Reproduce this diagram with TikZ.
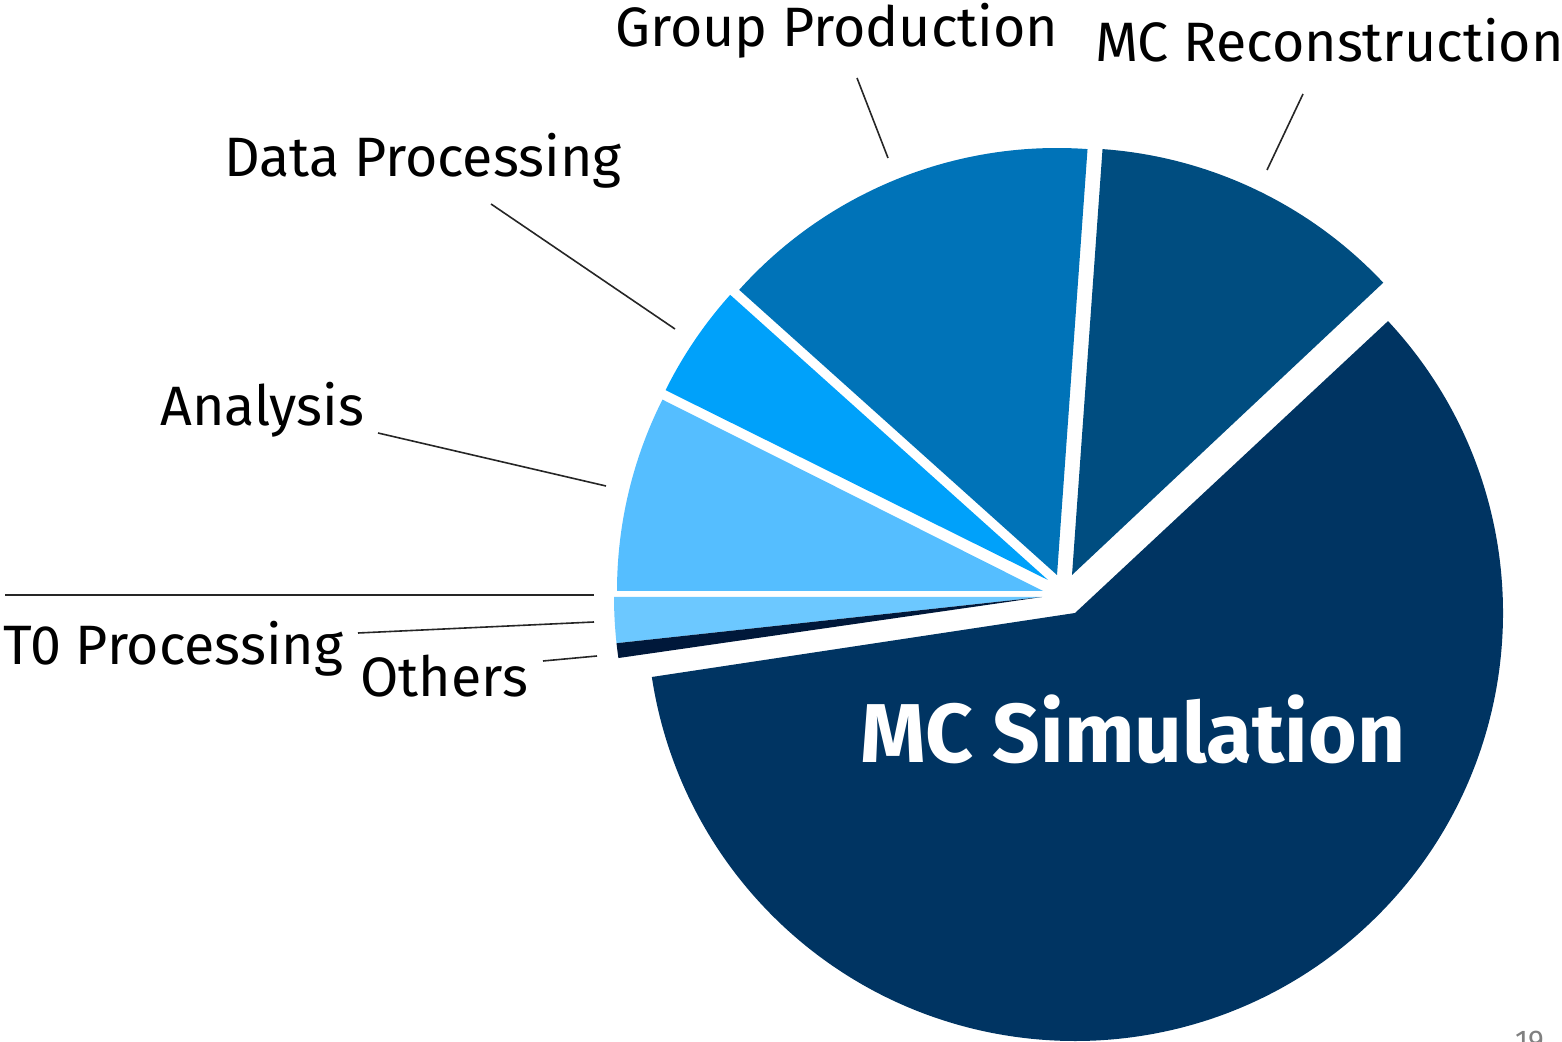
\documentclass[tikz,border=0pt]{standalone}
\usepackage{fontspec}
\setmainfont{Fira Sans}
\begin{document}
\begin{tikzpicture}[x=1pt,y=1pt,
  lbl/.style={inner sep=0pt, font=\fontsize{55.5}{66}\selectfont, anchor=base west},
  lead/.style={draw=black!85, line width=1.6pt},
  slice/.style={fill=#1}]
\definecolor{cSim}{RGB}{0,52,98}
\definecolor{cRec}{RGB}{0,77,128}
\definecolor{cGrp}{RGB}{0,115,184}
\definecolor{cDat}{RGB}{0,161,250}
\definecolor{cAna}{RGB}{85,190,255}
\definecolor{cTzero}{RGB}{108,200,255}
\definecolor{cOth}{RGB}{0,24,58}
\useasboundingbox (0,0) rectangle (1562,1041);

% pie slices: apex, then arc between start and end angle
\fill[slice=cSim] (1075,428) -- ++(43:428pt) arc[start angle=43, end angle=-171.4, radius=428pt] -- cycle;
\fill[slice=cRec] (1072,466) -- ++(43.2:427pt) arc[start angle=43.2, end angle=85.9, radius=427pt] -- cycle;
\fill[slice=cGrp] (1057,466) -- ++(85.9:427pt) arc[start angle=85.9, end angle=138.1, radius=427pt] -- cycle;
\fill[slice=cDat] (1048,461) -- ++(138.1:427pt) arc[start angle=138.1, end angle=153.6, radius=427pt] -- cycle;
\fill[slice=cAna] (1043,450) -- ++(153.3:426pt) arc[start angle=153.3, end angle=180, radius=426pt] -- cycle;
\fill[slice=cTzero] (1042,444) -- ++(180:428pt) arc[start angle=180, end angle=186.2, radius=428pt] -- cycle;
\fill[slice=cOth] (1042,444) -- ++(186.2:428pt) arc[start angle=186.2, end angle=188.2, radius=428pt] -- cycle;

% labels
\node[lbl] (grp) at (615,994) {Group Production};
\node[lbl] (rec) at (1095,979) {MC Reconstruction};
\node[lbl] (dat) at (224,864) {Data Processing};
\node[lbl] (ana) at (160,615) {Analysis};
\node[lbl] (tzero) at (3,376) {T0 Processing};
\node[lbl] (oth) at (360,344) {Others};
\node[inner sep=0pt, anchor=base west, text=white, font=\fontsize{83.5}{96}\selectfont\bfseries] (sim) at (860,278) {MC Simulation};
\node[inner sep=0pt, anchor=base west, text=black!50, font=\fontsize{30}{36}\selectfont] (pg) at (1515,-10) {19};

% leader lines
\coordinate (grpA) at (857,963); \coordinate (grpB) at (888,883);
\coordinate (recA) at (1303,947); \coordinate (recB) at (1267,871);
\coordinate (datA) at (491,837); \coordinate (datB) at (675,712);
\coordinate (anaA) at (378,608); \coordinate (anaB) at (606,555);
\coordinate (tzA) at (358,408); \coordinate (tzB) at (594,419);
\coordinate (hzA) at (5,446); \coordinate (hzB) at (594,446);
\coordinate (othA) at (543,380); \coordinate (othB) at (597,385);
\draw[lead] (grpA) -- (grpB);
\draw[lead] (recA) -- (recB);
\draw[lead] (datA) -- (datB);
\draw[lead] (anaA) -- (anaB);
\draw[lead] (tzA) -- (tzB);
\draw[lead] (hzA) -- (hzB);
\draw[lead] (othA) -- (othB);
\end{tikzpicture}
\end{document}
